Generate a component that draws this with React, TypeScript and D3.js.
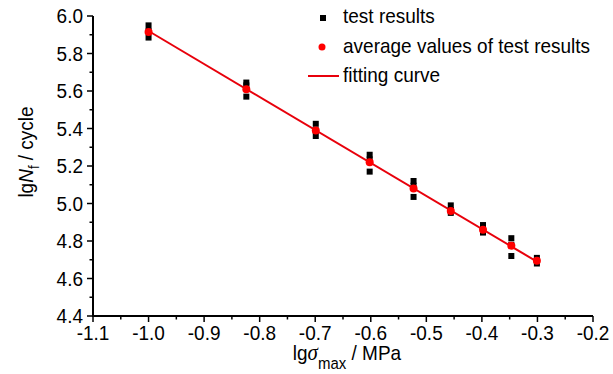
import React from 'react';
import * as d3 from 'd3';

// lg(sigma_max) values of the stress levels
const stressLevels = [-1.0, -0.824, -0.699, -0.602, -0.523, -0.456, -0.398, -0.347, -0.301];
// lg(Nf) of the individual specimens, per stress level
const testResults = [
  [5.95, 5.92, 5.885],
  [5.645, 5.63, 5.57],
  [5.425, 5.39, 5.36],
  [5.26, 5.235, 5.17],
  [5.12, 5.095, 5.035],
  [4.99, 4.965, 4.95],
  [4.885, 4.865, 4.845],
  [4.815, 4.78, 4.72],
  [4.71, 4.695, 4.68],
];
const averageValues = [5.915, 5.61, 5.39, 5.22, 5.08, 4.96, 4.86, 4.775, 4.695];
const fitX = [-1.0, -0.301];
const fitY = [5.92, 4.69];

const xTicks = [-1.1, -1.0, -0.9, -0.8, -0.7, -0.6, -0.5, -0.4, -0.3, -0.2];
const yTicks = [4.4, 4.6, 4.8, 5.0, 5.2, 5.4, 5.6, 5.8, 6.0];
const legendItems = ['test results', 'average values of test results', 'fitting curve'];

const W = 613;
const H = 374;
const margin = { left: 93, right: 20, top: 16, bottom: 58 };
const font = '"Liberation Sans", Arial, sans-serif';
const stretch = 1.1; // the source text is a bit taller than plain Arial

export default function App() {
  const x = d3.scaleLinear().domain([-1.1, -0.2]).range([margin.left, W - margin.right]);
  const y = d3.scaleLinear().domain([4.4, 6.0]).range([H - margin.bottom, margin.top]);

  const x0 = x(-1.1);
  const y0 = y(4.4);

  const xMinor = d3.range(0, 9).map(i => xTicks[i] + 0.05);
  const yMinor = d3.range(0, 8).map(i => yTicks[i] + 0.1);

  const line = d3.line<number>().x((d, i) => x(fitX[i])).y(d => y(d));

  const pts = stressLevels.flatMap((sx, i) => testResults[i].map(v => ({ sx, v })));

  const at = (tx: number, ty: number) => `translate(${tx},${ty}) scale(1,${stretch})`;

  return (
    <svg width={W} height={H} style={{ position: 'absolute', left: 0, top: 0, background: '#fff' }}
      fontFamily={font}>
      {/* axes */}
      <line x1={x0} x2={x(-0.2)} y1={y0} y2={y0} stroke="#000" strokeWidth={2} />
      <line x1={x0} x2={x0} y1={y0 + 1} y2={y(6.0)} stroke="#000" strokeWidth={2} />
      {xTicks.map(t => (
        <g key={'xt' + t}>
          <line x1={x(t)} x2={x(t)} y1={y0} y2={y0 + 6} stroke="#000" strokeWidth={1.5} />
          <text transform={at(x(t), y0 + 24)} fontSize={19} textAnchor="middle">{t.toFixed(1)}</text>
        </g>
      ))}
      {xMinor.map(t => (
        <line key={'xm' + t} x1={x(t)} x2={x(t)} y1={y0} y2={y0 + 3.5} stroke="#000" strokeWidth={1.5} />
      ))}
      {yTicks.map(t => (
        <g key={'yt' + t}>
          <line x1={x0 - 6} x2={x0} y1={y(t)} y2={y(t)} stroke="#000" strokeWidth={1.5} />
          <text transform={at(x0 - 10, y(t) + 7)} fontSize={19} textAnchor="end">{t.toFixed(1)}</text>
        </g>
      ))}
      {yMinor.map(t => (
        <line key={'ym' + t} x1={x0 - 3.5} x2={x0} y1={y(t)} y2={y(t)} stroke="#000" strokeWidth={1.5} />
      ))}

      {/* axis titles */}
      <text transform={at(347, 360)} fontSize={19} textAnchor="middle">
        lg<tspan fontStyle="italic" fontFamily='"Liberation Serif", serif' fontSize={21}>σ</tspan>
        <tspan fontSize={15} dy={8}>max</tspan>
        <tspan dy={-8}> / MPa</tspan>
      </text>
      <text transform={`translate(33,152) rotate(-90) scale(1,${stretch})`} fontSize={19} textAnchor="middle">
        lg<tspan fontStyle="italic">N</tspan>
        <tspan fontSize={13} dy={5}>f</tspan>
        <tspan dy={-5}> / cycle</tspan>
      </text>

      {/* data */}
      <path d={line(fitY) || ''} fill="none" stroke="#e8000b" strokeWidth={2} />
      {pts.map((p, i) => (
        <rect key={'s' + i} x={x(p.sx) - 3} y={y(p.v) - 3} width={6} height={6} fill="#000" />
      ))}
      {averageValues.map((v, i) => (
        <circle key={'a' + i} cx={x(stressLevels[i])} cy={y(v)} r={4} fill="#ff0000" />
      ))}

      {/* legend */}
      <rect x={320} y={15} width={6} height={6} fill="#000" />
      <circle cx={322} cy={47} r={3.5} fill="#ff0000" />
      <line x1={308} x2={339} y1={76} y2={76} stroke="#e8000b" strokeWidth={2} />
      {legendItems.map((t, i) => (
        <text key={t} transform={at(343, 23 + i * 29.5)} fontSize={19}>{t}</text>
      ))}
    </svg>
  );
}
